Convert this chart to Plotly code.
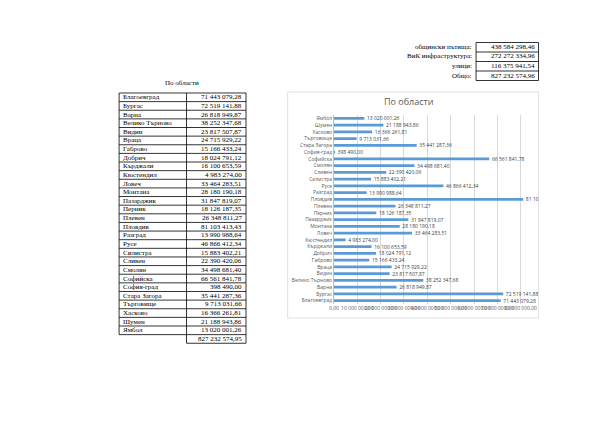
import plotly.graph_objects as go

# ---------------- data ----------------
regions = ["Благоевград", "Бургас", "Варна", "Велико Търново", "Видин", "Враца", "Габрово",
           "Добрич", "Кърджали", "Кюстендил", "Ловеч", "Монтана", "Пазарджик", "Перник",
           "Плевен", "Пловдив", "Разград", "Русе", "Силистра", "Сливен", "Смолян",
           "Софийска", "София-град", "Стара Загора", "Търговище", "Хасково", "Шумен", "Ямбол"]
values = [71443079.28, 72519141.88, 26818949.87, 38252347.68, 23817507.87, 24715929.22,
          15166433.24, 18024791.12, 16100653.59, 4983274.00, 33464283.51, 28180190.18,
          31847819.07, 18126187.35, 26348811.27, 81103413.43, 13990988.64, 46866412.34,
          15883402.21, 22390420.06, 34498681.40, 66561841.78, 398490.00, 35441287.36,
          9713031.66, 16366261.81, 21188943.86, 13020001.26]
table_total = 827232574.95

summary_labels = ["общински пътища:", "ВиК инфраструктура:", "улици:", "Общо:"]
summary_values = [438584298.46, 272272334.96, 116375941.54, 827232574.96]

tick_values = [0, 10e6, 20e6, 30e6, 40e6, 50e6, 60e6, 70e6, 80e6]

title_text = "По области"


def fmt(v):
    s = f"{v:,.2f}"
    return s.replace(",", " ").replace(".", ",")


# page body has an 8px margin: figure is placed at (8, 8)
OFF = 8
W, H = 592, 416


def px(x):
    return (x - OFF) / W


def py(y):
    return 1 - (y - OFF) / H


serif = "Liberation Serif"
annotations = []
shapes = []

# ---------------- top-right summary table ----------------
sum_rows = [47, 56.5, 66, 75.5]
for lab, val, yy in zip(summary_labels, summary_values, sum_rows):
    annotations.append(dict(x=px(473), y=py(yy), xref="paper", yref="paper", text=lab,
                            showarrow=False, xanchor="right", yanchor="middle",
                            font=dict(family=serif, size=7, color="#000")))
    annotations.append(dict(x=px(536), y=py(yy), xref="paper", yref="paper", text=fmt(val),
                            showarrow=False, xanchor="right", yanchor="middle",
                            font=dict(family=serif, size=7, color="#000")))
for yb in [42.5, 52, 61.5, 71, 80.5]:
    shapes.append(dict(type="line", xref="paper", yref="paper", x0=px(475), x1=px(538),
                       y0=py(yb), y1=py(yb), line=dict(color="#000", width=0.8)))
for xb in [475, 538]:
    shapes.append(dict(type="line", xref="paper", yref="paper", x0=px(xb), x1=px(xb),
                       y0=py(42.5), y1=py(80.5), line=dict(color="#000", width=0.8)))

# ---------------- left table ----------------
annotations.append(dict(x=px(178), y=py(83), xref="paper", yref="paper", text=title_text,
                        showarrow=False, xanchor="center", yanchor="middle",
                        font=dict(family=serif, size=7, color="#000")))
row0, dy = 97.3, 8.63
n = len(regions)
for i, (r, v) in enumerate(zip(regions, values)):
    yy = row0 + i * dy
    annotations.append(dict(x=px(117), y=py(yy), xref="paper", yref="paper", text=r,
                            showarrow=False, xanchor="left", yanchor="middle",
                            font=dict(family=serif, size=7, color="#000")))
    annotations.append(dict(x=px(241), y=py(yy), xref="paper", yref="paper", text=fmt(v),
                            showarrow=False, xanchor="right", yanchor="middle",
                            font=dict(family=serif, size=7, color="#000")))
ytot = row0 + n * dy
annotations.append(dict(x=px(241), y=py(ytot), xref="paper", yref="paper", text=fmt(table_total),
                        showarrow=False, xanchor="right", yanchor="middle",
                        font=dict(family=serif, size=7, color="#000")))
top = row0 - dy / 2
for i in range(n + 1):
    yb = top + i * dy
    shapes.append(dict(type="line", xref="paper", yref="paper", x0=px(115), x1=px(243),
                       y0=py(yb), y1=py(yb), line=dict(color="#000", width=0.8)))
bottom = top + n * dy
shapes.append(dict(type="line", xref="paper", yref="paper", x0=px(183), x1=px(243),
                   y0=py(bottom + dy), y1=py(bottom + dy), line=dict(color="#000", width=0.8)))
for xb, yb2 in [(115, bottom), (183, bottom + dy), (243, bottom + dy)]:
    shapes.append(dict(type="line", xref="paper", yref="paper", x0=px(xb), x1=px(xb),
                       y0=py(top), y1=py(yb2), line=dict(color="#000", width=0.8)))

# ---------------- chart frame & title ----------------
shapes.append(dict(type="rect", xref="paper", yref="paper", x0=px(285), x1=px(538),
                   y0=py(92), y1=py(318), line=dict(color="#D9D9D9", width=0.8), layer="below"))
annotations.append(dict(x=px(407), y=py(102), xref="paper", yref="paper", text=title_text,
                        showarrow=False, xanchor="center", yanchor="middle",
                        font=dict(family="Open Sans", size=9, color="#595959")))

fig = go.Figure(go.Bar(
    x=values, y=regions, orientation="h",
    marker=dict(color="#5B9BD5", line=dict(width=0)),
    text=["\u00a0\u00a0" + fmt(v) for v in values], textposition="outside", cliponaxis=True,
    constraintext="none",
    textfont=dict(family="Open Sans", size=5, color="#404040"),
    width=0.4,
))

xmax = (538 - 331.7) / 23.54 * 10e6
fig.update_layout(
    width=W, height=H, margin=dict(l=0, r=0, t=0, b=0),
    paper_bgcolor="white", plot_bgcolor="white",
    showlegend=False,
    xaxis=dict(domain=[px(331.7), px(538)], range=[0, xmax], tickvals=tick_values,
               ticktext=[fmt(t) for t in tick_values], tickangle=0,
               showgrid=True, gridcolor="#D9D9D9", gridwidth=0.7, zeroline=False,
               tickfont=dict(family="Open Sans", size=5, color="#595959"), ticks="",
               showline=False, fixedrange=True),
    yaxis=dict(domain=[py(304), py(115)], categoryorder="array", categoryarray=regions,
               tickfont=dict(family="Open Sans", size=5, color="#595959"), ticks="",
               showline=True, linecolor="#BFBFBF", linewidth=0.7, showgrid=False,
               fixedrange=True),
    annotations=annotations, shapes=shapes,
)

fig.write_html("out.html")
